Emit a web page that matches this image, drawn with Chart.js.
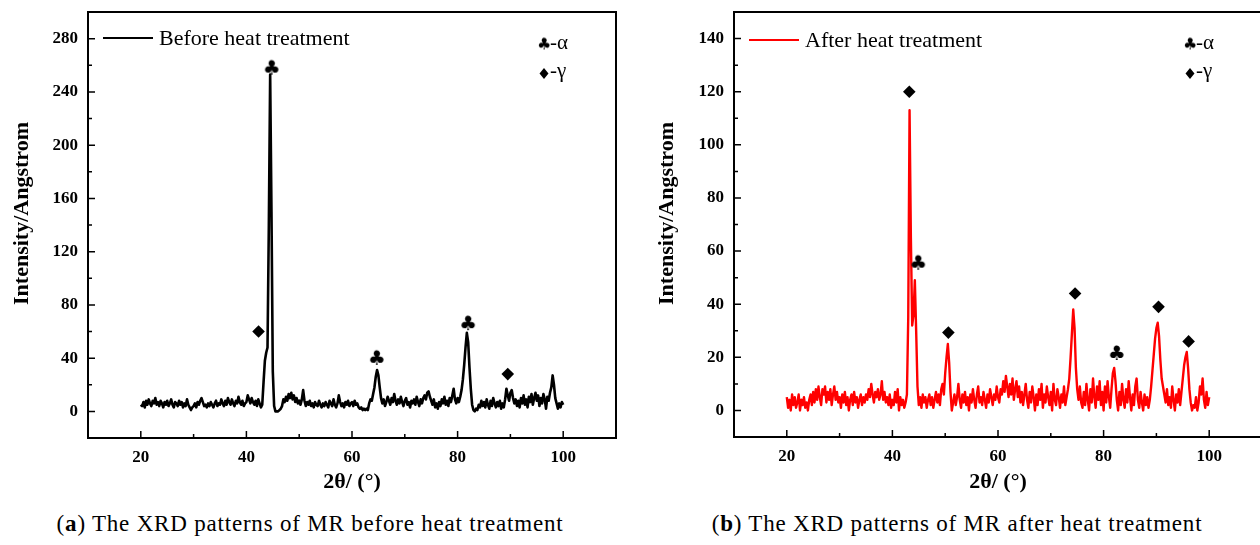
<!DOCTYPE html>
<html>
<head>
<meta charset="utf-8">
<script src="https://cdn.jsdelivr.net/npm/chart.js@4.4.1/dist/chart.umd.min.js"></script>
<style>
    html, body { margin: 0; padding: 0; background: #fff; overflow: hidden; }
    #wrap { position: relative; width: 1260px; height: 545px; overflow: hidden; }
    #wrap canvas { position: absolute; top: 0; }
    #chartBefore { left: 0; width: 640px; height: 505px; }
    #chartAfter { left: 640px; width: 632px; height: 505px; }
    .caption {
        position: absolute; top: 512px;
        font-family: 'Liberation Serif', serif; font-size: 23px; line-height: 23px;
        letter-spacing: 0.8px; text-align: center; color: #000; white-space: nowrap;
    }
</style>
</head>
<body>
<div id="wrap">
    <canvas id="chartBefore" width="640" height="505"></canvas>
    <canvas id="chartAfter" width="632" height="505"></canvas>
    <div class="caption" style="left:0;width:620px">(<b>a</b>) The XRD patterns of MR before heat treatment</div>
    <div class="caption" style="left:660px;width:594px">(<b>b</b>) The XRD patterns of MR after heat treatment</div>
</div>
<script>
// 2θ sampling of both scans
const angleStart = 20;
const angleStep = 0.25;

// intensity, one row = 5 degrees
const beforeIntensity = [
    5, 4, 7, 3, 8, 5, 9, 6, 4, 8, 6, 10, 5, 7, 4, 8, 6, 3, 7, 5,
    8, 4, 6, 9, 5, 3, 7, 6, 4, 8, 5, 7, 3, 6, 4, 9, 5, 3, 1, 3,
    4, 6, 3, 7, 5, 8, 10, 7, 4, 5, 3, 6, 4, 7, 5, 3, 6, 8, 4, 6,
    5, 9, 6, 4, 8, 5, 10, 7, 5, 9, 6, 4, 8, 6, 11, 7, 5, 8, 4, 6,
    7, 12, 9, 6, 10, 7, 5, 8, 4, 9, 6, 3, 5, 22, 38, 44, 48, 140, 253, 150,
    30, 4, 0, 0, 0, 1, 2, 4, 9, 7, 11, 8, 13, 10, 14, 9, 12, 7, 10, 6,
    8, 5, 9, 16, 8, 4, 7, 5, 8, 4, 6, 3, 7, 5, 4, 8, 5, 3, 6, 4,
    7, 5, 3, 8, 6, 4, 9, 5, 3, 6, 12, 7, 4, 6, 3, 7, 5, 8, 4, 6,
    7, 4, 8, 5, 6, 3, 2, 3, 1, 2, 1, 2, 1, 6, 9, 8, 13, 18, 26, 31,
    27, 18, 10, 6, 9, 4, 7, 11, 8, 5, 10, 7, 13, 8, 5, 9, 6, 11, 7, 4,
    8, 10, 5, 7, 3, 8, 6, 9, 5, 11, 7, 4, 9, 6, 10, 12, 9, 14, 15, 11,
    8, 5, 9, 3, 6, 2, 7, 4, 9, 6, 11, 5, 8, 4, 10, 7, 12, 17, 9, 6,
    10, 7, 11, 16, 24, 35, 48, 59, 52, 33, 17, 5, 1, 0, 2, 1, 5, 3, 8, 4,
    7, 3, 9, 5, 2, 8, 4, 10, 6, 3, 7, 4, 8, 2, 6, 3, 9, 17, 12, 8,
    14, 16, 10, 6, 9, 4, 8, 3, 10, 6, 12, 5, 9, 3, 11, 7, 13, 5, 10, 14,
    8, 12, 4, 10, 6, 13, 9, 2, 11, 8, 14, 18, 27, 20, 10, 6, 2, 6, 3, 7,
    5
];

const afterIntensity = [
    5, 1, 4, 0, 6, 2, 5, 1, 3, 6, 0, 4, 2, 5, 1, 3, 0, 4, 6, 2,
    7, 3, 8, 4, 9, 5, 2, 8, 6, 9, 3, 7, 4, 8, 2, 6, 9, 4, 7, 3,
    5, 1, 6, 3, 7, 2, 5, 0, 4, 6, 2, 7, 3, 5, 1, 4, 6, 2, 5, 3,
    6, 4, 8, 5, 10, 6, 3, 7, 5, 8, 4, 6, 11, 4, 7, 3, 5, 2, 6, 1,
    4, 2, 7, 3, 8, 0, 5, 2, 4, 1, 3, 6, 35, 113, 65, 32, 36, 49, 30, 9,
    2, 5, 1, 6, 3, 5, 1, 4, 6, 2, 5, 1, 4, 7, 3, 6, 2, 8, 10, 6,
    14, 20, 25, 18, 7, 0, 3, 6, 2, 5, 10, 4, 1, 6, 3, 7, 2, 5, 0, 6,
    3, 8, 4, 1, 6, 9, 3, 5, 2, 7, 4, 1, 6, 3, 8, 5, 2, 6, 4, 9,
    5, 3, 8, 6, 11, 7, 13, 9, 5, 10, 6, 12, 4, 8, 11, 5, 9, 3, 7, 2,
    6, 10, 4, 1, 7, 3, 9, 5, 0, 6, 2, 8, 4, 10, 1, 6, 3, 9, 5, 2,
    7, 0, 10, 4, 2, 8, 5, 1, 6, 3, 9, 2, 5, 8, 12, 20, 29, 38, 31, 16,
    8, 4, 9, 3, 1, 7, 2, 10, 4, 0, 8, 3, 12, 5, 1, 9, 4, 11, 2, 7,
    0, 9, 3, 11, 5, 1, 8, 14, 16, 11, 4, 0, 7, 2, 10, 4, 1, 8, 3, 11,
    5, 0, 6, 2, 9, 12, 4, 1, 7, 3, 0, 6, 2, 5, 1, 4, 9, 15, 21, 27,
    31, 33, 28, 19, 12, 9, 6, 3, 8, 2, 5, 1, 9, 4, 0, 6, 3, 8, 2, 7,
    12, 17, 20, 22, 16, 8, 3, 0, 2, 1, 5, 0, 3, 9, 6, 12, 4, 1, 7, 2,
    5
];

// phase marks above the peaks (α = club, γ = diamond)
const beforeAlphaX = [44.8, 64.7, 82.0];
const beforeAlphaY = [259, 41, 67];
const beforeGammaX = [42.3, 89.5];
const beforeGammaY = [60, 28];
const afterAlphaX = [44.9, 82.5];
const afterAlphaY = [56, 22];
const afterGammaX = [43.2, 50.6, 74.6, 90.4, 96.1];
const afterGammaY = [120, 29.3, 44, 39, 26];

// axis ticks
const angleTicks = [20, 40, 60, 80, 100];
const beforeTicks = [0, 40, 80, 120, 160, 200, 240, 280];
const afterTicks = [0, 20, 40, 60, 80, 100, 120, 140];

function toPoints(values) {
    return values.map((v, i) => ({ x: angleStart + i * angleStep, y: v }));
}

function pairs(xs, ys) {
    return xs.map((x, i) => ({ x: x, y: ys[i] }));
}

function makeClub(size) {
    const c = document.createElement('canvas');
    c.width = size + 4;
    c.height = size + 4;
    const g = c.getContext('2d');
    g.font = size + 'px "DejaVu Sans"';
    g.fillStyle = '#000';
    const m = g.measureText('\u2663');
    const w = m.actualBoundingBoxLeft + m.actualBoundingBoxRight;
    const h = m.actualBoundingBoxAscent + m.actualBoundingBoxDescent;
    g.fillText('\u2663', (c.width - w) / 2 + m.actualBoundingBoxLeft, (c.height - h) / 2 + m.actualBoundingBoxAscent);
    return c;
}

const peakClub = makeClub(20);
const keyClub = makeClub(16);

const xrdDecor = {
    id: 'xrdDecor',
    afterDraw(chart, args, opts) {
        const ctx = chart.ctx;
        const a = chart.chartArea;
        const xs = chart.scales.x;
        const ys = chart.scales.y;
        ctx.save();

        // frame
        ctx.strokeStyle = '#000';
        ctx.lineWidth = 2;
        ctx.strokeRect(a.left, a.top, a.right - a.left, a.bottom - a.top);

        // inward ticks, major + minor
        ctx.lineWidth = 1.5;
        ctx.beginPath();
        const xv = xs.ticks.map(t => t.value);
        xv.forEach((v, i) => {
            const p = xs.getPixelForValue(v);
            ctx.moveTo(p, a.bottom);
            ctx.lineTo(p, a.bottom - 7);
            if (i < xv.length - 1) {
                const m = xs.getPixelForValue((v + xv[i + 1]) / 2);
                ctx.moveTo(m, a.bottom);
                ctx.lineTo(m, a.bottom - 4);
            }
        });
        const yv = ys.ticks.map(t => t.value);
        yv.forEach((v, i) => {
            const p = ys.getPixelForValue(v);
            ctx.moveTo(a.left, p);
            ctx.lineTo(a.left + 7, p);
            if (i < yv.length - 1) {
                const m = ys.getPixelForValue((v + yv[i + 1]) / 2);
                ctx.moveTo(a.left, m);
                ctx.lineTo(a.left + 4, m);
            }
        });
        ctx.stroke();

        // series legend
        ctx.strokeStyle = opts.color;
        ctx.lineWidth = 2;
        ctx.beginPath();
        ctx.moveTo(a.left + 15, a.top + opts.keyY);
        ctx.lineTo(a.left + 65, a.top + opts.keyY);
        ctx.stroke();
        ctx.fillStyle = '#000';
        ctx.font = '22px "Liberation Serif"';
        ctx.textBaseline = 'alphabetic';
        ctx.textAlign = 'left';
        ctx.fillText(opts.label, a.left + 71, a.top + opts.keyY + 7);

        // phase key
        const kx = a.right - 72;
        ctx.drawImage(keyClub, kx - keyClub.width / 2, a.top + 31.5 - keyClub.height / 2);
        ctx.beginPath();
        ctx.moveTo(kx, a.top + 56);
        ctx.lineTo(kx + 4.5, a.top + 61.5);
        ctx.lineTo(kx, a.top + 67);
        ctx.lineTo(kx - 4.5, a.top + 61.5);
        ctx.closePath();
        ctx.fill();
        ctx.font = '21px "Liberation Serif"';
        ctx.fillText('-\u03b1', kx + 6, a.top + 36.5);
        ctx.fillText('-\u03b3', kx + 6, a.top + 64.5);

        // axis titles
        ctx.font = 'bold 22px "Liberation Serif"';
        ctx.textAlign = 'center';
        ctx.fillText('2\u03b8/ (\u00b0)', (a.left + a.right) / 2, 488);
        ctx.translate(opts.titleX, 213.5);
        ctx.rotate(-Math.PI / 2);
        ctx.fillText('Intensity/Angstrom', 0, 0);
        ctx.restore();
    }
};

const tickFont = { family: 'Liberation Serif', size: 17, weight: 'bold' };

function xrdChart(canvasId, p) {
    return new Chart(document.getElementById(canvasId).getContext('2d'), {
        type: 'line',
        data: {
            datasets: [
                {
                    label: p.label,
                    data: toPoints(p.values),
                    borderColor: p.color,
                    borderWidth: p.lineWidth,
                    borderJoinStyle: 'round',
                    pointRadius: 0,
                    tension: 0,
                    fill: false,
                    order: 2
                },
                {
                    data: pairs(p.alphaX, p.alphaY),
                    showLine: false,
                    pointStyle: peakClub,
                    pointRadius: 7,
                    borderWidth: 0,
                    order: 1
                },
                {
                    data: pairs(p.gammaX, p.gammaY),
                    showLine: false,
                    pointStyle: 'rectRot',
                    pointRadius: 6.3,
                    backgroundColor: '#000',
                    borderColor: '#000',
                    borderWidth: 0,
                    order: 1
                }
            ]
        },
        options: {
            responsive: false,
            animation: false,
            events: [],
            layout: { padding: { top: 12, right: p.padRight, left: 0, bottom: 0 } },
            plugins: {
                legend: { display: false },
                tooltip: { enabled: false },
                xrdDecor: { label: p.label, color: p.color, keyY: p.keyY, titleX: p.titleX }
            },
            scales: {
                x: {
                    type: 'linear',
                    min: 10,
                    max: 110,
                    afterBuildTicks: s => { s.ticks = angleTicks.map(v => ({ value: v })); },
                    afterFit: s => {
                        s.height = p.xAxisHeight;
                        s.paddingLeft = 0;
                        s.paddingRight = 0;
                    },
                    grid: { display: false, drawTicks: false },
                    border: { display: false },
                    ticks: { font: tickFont, color: '#000', padding: 9, maxRotation: 0, autoSkip: false }
                },
                y: {
                    min: p.yMin,
                    max: p.yMax,
                    afterBuildTicks: s => { s.ticks = p.yTicks.map(v => ({ value: v })); },
                    afterFit: s => {
                        s.width = p.yAxisWidth;
                        s.paddingTop = 0;
                        s.paddingBottom = 0;
                    },
                    grid: { display: false, drawTicks: false },
                    border: { display: false },
                    ticks: { font: tickFont, color: '#000', padding: 10, autoSkip: false }
                }
            }
        },
        plugins: [xrdDecor]
    });
}

xrdChart('chartBefore', {
    label: 'Before heat treatment',
    values: beforeIntensity,
    color: '#000000',
    lineWidth: 2.6,
    alphaX: beforeAlphaX, alphaY: beforeAlphaY,
    gammaX: beforeGammaX, gammaY: beforeGammaY,
    yMin: -20, yMax: 300, yTicks: beforeTicks,
    padRight: 24, yAxisWidth: 88, xAxisHeight: 67,
    keyY: 26, titleX: 28
});

// right frame edge ends just past the page edge, as in the figure
xrdChart('chartAfter', {
    label: 'After heat treatment',
    values: afterIntensity,
    color: '#ff0000',
    lineWidth: 2.4,
    alphaX: afterAlphaX, alphaY: afterAlphaY,
    gammaX: afterGammaX, gammaY: afterGammaY,
    yMin: -10, yMax: 150, yTicks: afterTicks,
    padRight: 10, yAxisWidth: 94, xAxisHeight: 68,
    keyY: 28, titleX: 33
});
</script>
</body>
</html>
